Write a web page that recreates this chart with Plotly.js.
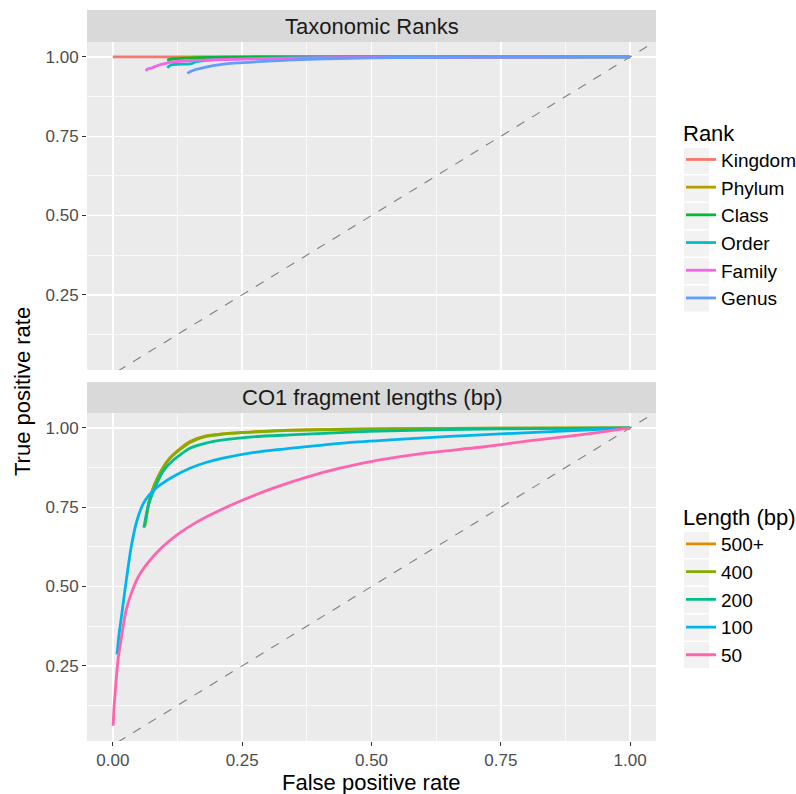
<!DOCTYPE html>
<html>
<head>
<meta charset="utf-8">
<script src="https://cdn.plot.ly/plotly-3.0.1.min.js"></script>
<style>html,body{margin:0;padding:0;background:#fff;}#chart{width:796px;height:794px;}</style>
</head>
<body>
<div id="chart"></div>
<script>
// ---- Data: Taxonomic Ranks panel ----
const rankNames = ["Kingdom", "Phylum", "Class", "Order", "Family", "Genus"];
const rankColors = ["#F8766D", "#B79F00", "#00BA38", "#00BFC4", "#F564E3", "#619CFF"];
const kingdomFPR = [0, 0.05, 0.25, 0.5, 0.75, 1];
const kingdomTPR = [1, 1, 1, 1, 1, 1];
const phylumFPR = [0.11, 0.12, 0.14, 0.18, 0.25, 0.5, 1];
const phylumTPR = [0.993, 0.996, 0.998, 0.999, 1, 1, 1];
const classFPR = [0.105, 0.11, 0.12, 0.14, 0.17, 0.22, 0.3, 0.5, 1];
const classTPR = [0.99, 0.992, 0.994, 0.996, 0.998, 0.999, 1, 1, 1];
const orderFPR = [0.105, 0.11, 0.115, 0.13, 0.15, 0.16, 0.18, 0.22, 0.3, 0.45, 1];
const orderTPR = [0.966, 0.972, 0.976, 0.977, 0.978, 0.984, 0.989, 0.993, 0.996, 0.999, 1];
const familyFPR = [0.064, 0.067, 0.075, 0.085, 0.1, 0.12, 0.15, 0.2, 0.3, 0.45, 0.6, 1];
const familyTPR = [0.955, 0.962, 0.965, 0.972, 0.979, 0.985, 0.988, 0.991, 0.995, 0.998, 0.999, 1];
const genusFPR = [0.144, 0.15, 0.162, 0.18, 0.2, 0.24, 0.28, 0.34, 0.41, 0.5, 0.6, 0.75, 1];
const genusTPR = [0.948, 0.954, 0.961, 0.968, 0.974, 0.981, 0.985, 0.99, 0.994, 0.997, 0.999, 1, 1];

// ---- Data: CO1 fragment lengths panel ----
const lengthNames = ["500+", "400", "200", "100", "50"];
const lengthColors = ["#E08B00", "#85AD00", "#00BF8C", "#00B5EE", "#FF65AF"];
const len500FPR = [0.063, 0.07, 0.08, 0.095, 0.11, 0.13, 0.15, 0.18, 0.21, 0.25, 0.34, 0.54, 0.75, 1];
const len500TPR = [0.70, 0.77, 0.82, 0.87, 0.905, 0.935, 0.958, 0.975, 0.981, 0.986, 0.993, 0.998, 0.999, 1];
const len400FPR = [0.062, 0.07, 0.08, 0.095, 0.11, 0.13, 0.15, 0.18, 0.21, 0.25, 0.34, 0.54, 0.75, 1];
const len400TPR = [0.69, 0.765, 0.818, 0.868, 0.903, 0.932, 0.955, 0.973, 0.98, 0.985, 0.992, 0.997, 0.999, 1];
const len200FPR = [0.06, 0.068, 0.081, 0.097, 0.117, 0.149, 0.18, 0.213, 0.27, 0.342, 0.45, 0.536, 0.75, 1];
const len200TPR = [0.685, 0.753, 0.81, 0.863, 0.899, 0.936, 0.952, 0.962, 0.972, 0.978, 0.986, 0.991, 0.997, 1];
const len100FPR = [0.008, 0.012, 0.017, 0.021, 0.026, 0.031, 0.036, 0.046, 0.059, 0.07, 0.085, 0.1, 0.117, 0.149, 0.18, 0.213, 0.278, 0.375, 0.45, 0.536, 0.65, 0.774, 0.9, 1];
const len100TPR = [0.286, 0.35, 0.41, 0.46, 0.52, 0.578, 0.63, 0.705, 0.762, 0.788, 0.812, 0.83, 0.847, 0.873, 0.891, 0.905, 0.924, 0.941, 0.953, 0.962, 0.973, 0.983, 0.992, 1];
const len50FPR = [0.0006, 0.002, 0.0045, 0.007, 0.010, 0.015, 0.020, 0.026, 0.036, 0.049, 0.068, 0.094, 0.126, 0.162, 0.213, 0.249, 0.31, 0.375, 0.439, 0.516, 0.6, 0.71, 0.8, 0.903, 0.95, 1];
const len50TPR = [0.061, 0.113, 0.166, 0.218, 0.270, 0.323, 0.375, 0.428, 0.480, 0.530, 0.575, 0.622, 0.665, 0.703, 0.745, 0.771, 0.81, 0.845, 0.873, 0.899, 0.92, 0.939, 0.958, 0.978, 0.988, 1];

// diagonal reference line (y = x)
const diagX = [-0.05, 1.05];
const diagY = [-0.05, 1.05];

const rankX = [kingdomFPR, phylumFPR, classFPR, orderFPR, familyFPR, genusFPR];
const rankY = [kingdomTPR, phylumTPR, classTPR, orderTPR, familyTPR, genusTPR];
const lenX = [len500FPR, len400FPR, len200FPR, len100FPR, len50FPR];
const lenY = [len500TPR, len400TPR, len200TPR, len100TPR, len50TPR];

const FONT = "Liberation Sans, Arial, Helvetica, sans-serif";
const traces = [];
traces.push({x: diagX, y: diagY, xaxis: "x", yaxis: "y", mode: "lines", showlegend: false, hoverinfo: "skip",
  line: {color: "#7F7F7F", width: 1.1, dash: "dash"}});
traces.push({x: diagX, y: diagY, xaxis: "x2", yaxis: "y2", mode: "lines", showlegend: false, hoverinfo: "skip",
  line: {color: "#7F7F7F", width: 1.1, dash: "dash"}});
rankNames.forEach((n, i) => traces.push({
  x: rankX[i], y: rankY[i], xaxis: "x", yaxis: "y", mode: "lines", name: n,
  legend: "legend", legendgroup: "r" + i, line: {color: rankColors[i], width: 2.8, shape: "spline", smoothing: 0.6}
}));
lengthNames.forEach((n, i) => traces.push({
  x: lenX[i], y: lenY[i], xaxis: "x2", yaxis: "y2", mode: "lines", name: n,
  legend: "legend2", legendgroup: "l" + i, line: {color: lengthColors[i], width: 2.8, shape: "spline", smoothing: 0.6}
}));

const H = 731;
function fy(px) { return (741 - px) / H; }
function fx(px) { return (px - 87) / 569; }

const gridMinor = {showgrid: true, gridcolor: "#FFFFFF", gridwidth: 0.7, dtick: 0.125, tick0: 0, ticks: ""};
const xbase = {range: [-0.05, 1.05], dtick: 0.25, tick0: 0, showgrid: true, gridcolor: "#FFFFFF", gridwidth: 1.4,
  zeroline: false, showline: false, minor: gridMinor, tickformat: ".2f"};
const ybase = {range: [0.013, 1.047], dtick: 0.25, tick0: 0, showgrid: true, gridcolor: "#FFFFFF", gridwidth: 1.4,
  zeroline: false, showline: false, minor: gridMinor, tickformat: ".2f",
  ticks: "outside", ticklen: 4, tickcolor: "#333333", tickwidth: 1,
  tickfont: {family: FONT, size: 17, color: "#4D4D4D"}};

// legend key backgrounds (ggplot style grey boxes)
const rankKeyCenters = [161, 188.5, 216, 243.5, 271, 298.5];
const lenKeyCenters = [545, 572.5, 600, 627.5, 655];
const keyShapes = rankKeyCenters.concat(lenKeyCenters).map(c => ({
  type: "rect", xref: "paper", yref: "paper", x0: fx(684), x1: fx(709), y0: fy(c + 13), y1: fy(c - 13),
  fillcolor: "#F2F2F2", line: {width: 0}, layer: "below"
}));

const layout = {
  width: 796, height: 794,
  margin: {l: 87, r: 140, t: 10, b: 53, autoexpand: false},
  paper_bgcolor: "#FFFFFF", plot_bgcolor: "#EBEBEB",
  font: {family: FONT, color: "#000000"},
  xaxis: Object.assign({}, xbase, {domain: [0, 1], anchor: "y", showticklabels: false, ticks: ""}),
  xaxis2: Object.assign({}, xbase, {domain: [0, 1], anchor: "y2", matches: "x", ticks: "outside", ticklen: 4,
    tickcolor: "#333333", tickwidth: 1, tickfont: {family: FONT, size: 17, color: "#4D4D4D"}}),
  yaxis: Object.assign({}, ybase, {domain: [fy(370), fy(42)], anchor: "x"}),
  yaxis2: Object.assign({}, ybase, {domain: [fy(741), fy(413)], anchor: "x2", matches: "y"}),
  shapes: [
    {type: "rect", xref: "paper", yref: "paper", x0: 0, x1: 1, y0: fy(42), y1: fy(10), fillcolor: "#D9D9D9", line: {width: 0}},
    {type: "rect", xref: "paper", yref: "paper", x0: 0, x1: 1, y0: fy(413), y1: fy(382), fillcolor: "#D9D9D9", line: {width: 0}}
  ].concat(keyShapes),
  annotations: [
    {text: "Taxonomic Ranks", xref: "paper", yref: "paper", x: 0.5, y: fy(26), showarrow: false,
      font: {family: FONT, size: 22, color: "#1A1A1A"}, xanchor: "center", yanchor: "middle"},
    {text: "CO1 fragment lengths (bp)", xref: "paper", yref: "paper", x: 0.5, y: fy(397.5), showarrow: false,
      font: {family: FONT, size: 22, color: "#1A1A1A"}, xanchor: "center", yanchor: "middle"},
    {text: "True positive rate", xref: "paper", yref: "paper", x: fx(22), y: fy(392), showarrow: false,
      textangle: -90, font: {family: FONT, size: 22, color: "#000000"}, xanchor: "center", yanchor: "middle"},
    {text: "False positive rate", xref: "paper", yref: "paper", x: 0.5, y: fy(782), showarrow: false,
      font: {family: FONT, size: 22, color: "#000000"}, xanchor: "center", yanchor: "middle"}
  ],
  legend: {x: fx(681), y: fy(112), xanchor: "left", yanchor: "top", bgcolor: "rgba(0,0,0,0)",
    title: {text: "Rank", font: {family: FONT, size: 22, color: "#000000"}},
    font: {family: FONT, size: 19, color: "#000000"}, traceorder: "grouped", tracegroupgap: 0, itemwidth: 30},
  legend2: {x: fx(681), y: fy(496.5), xanchor: "left", yanchor: "top", bgcolor: "rgba(0,0,0,0)",
    title: {text: "Length (bp)", font: {family: FONT, size: 22, color: "#000000"}},
    font: {family: FONT, size: 19, color: "#000000"}, traceorder: "grouped", tracegroupgap: 0, itemwidth: 30},
  showlegend: true
};

Plotly.newPlot("chart", traces, layout, {staticPlot: true, displayModeBar: false});
</script>
</body>
</html>
